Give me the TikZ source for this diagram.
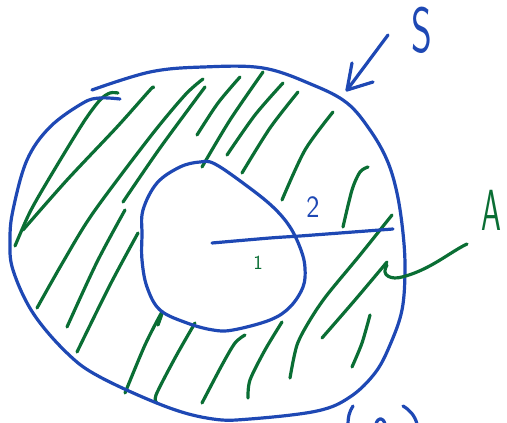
\documentclass[tikz,border=0pt]{standalone}
\definecolor{pen}{RGB}{30,72,180}
\definecolor{hatch}{RGB}{10,110,52}
\tikzset{
  bluepen/.style={draw=pen, line width=3.2pt, line cap=round, line join=round},
  greenpen/.style={draw=hatch, line width=3.2pt, line cap=round, line join=round},
  lbl/.style={inner sep=0pt, font=\sffamily}
}
\begin{document}
\begin{tikzpicture}[x=1pt,y=-1pt]
\useasboundingbox (0,0) rectangle (507,423);
% hatching
\draw[greenpen] plot[smooth] coordinates {(15,246) (30,212) (50,177) (83,123) (100,100) (110,93) (118,93)};
\draw[greenpen] plot[smooth] coordinates {(23,230) (67,180) (117,127) (150,90) (153,88)};
\draw[greenpen] plot[smooth] coordinates {(37,308) (63,262) (93,213) (150,137) (185,95) (203,79)};
\draw[greenpen] plot[smooth] coordinates {(123,202) (160,148) (205,87)};
\draw[greenpen] plot[smooth] coordinates {(67,327) (97,262) (125,210)};
\draw[greenpen] plot[smooth] coordinates {(77,352) (110,285) (138,233)};
\draw[greenpen] plot[smooth] coordinates {(125,393) (145,345) (162,312) (158,325)};
\draw[greenpen] plot[smooth] coordinates {(157,403) (156,395) (175,358) (195,323)};
\draw[greenpen] plot[smooth] coordinates {(202,403) (222,365) (235,343) (245,335)};
\draw[greenpen] plot[smooth] coordinates {(248,398) (250,380) (265,350) (282,322)};
\draw[greenpen] plot[smooth] coordinates {(290,378) (297,345) (310,320) (327,295) (360,255) (392,215)};
\draw[greenpen] plot[smooth] coordinates {(322,338) (355,300) (387,262)};
\draw[greenpen] plot[smooth] coordinates {(352,367) (362,343) (370,315)};
\draw[greenpen] plot[smooth] coordinates {(343,227) (352,190) (360,172) (368,167)};
\draw[greenpen] plot[smooth] coordinates {(282,200) (305,150) (333,112)};
\draw[greenpen] plot[smooth] coordinates {(242,173) (270,128) (298,92)};
\draw[greenpen] plot[smooth] coordinates {(227,155) (255,115) (283,83)};
\draw[greenpen] plot[smooth] coordinates {(202,167) (230,120) (263,72)};
\draw[greenpen] plot[smooth] coordinates {(197,135) (218,103) (240,77)};
% outer boundary S
\draw[bluepen] plot[smooth, tension=0.6] coordinates {(92,90) (150,72) (203,67) (263,68) (313,85) (347,103) (370,130) (387,160) (397,193) (403,233) (405,270) (402,310) (390,345) (375,373) (350,397) (317,411) (250,419) (213,419) (167,407) (100,377) (67,353) (33,313) (13,270) (10,240) (13,210) (27,160) (50,127) (83,103) (100,98) (120,99)};
% inner boundary
\draw[bluepen] plot[smooth cycle, tension=0.6] coordinates {(142,235) (143,210) (157,183) (180,167) (200,162) (215,164) (247,186) (273,207) (290,227) (301,250) (305,268) (303,287) (290,307) (270,320) (233,330) (213,330) (187,323) (160,310) (147,287) (142,260)};
% radial line
\draw[bluepen] plot[smooth] coordinates {(212,243) (270,238) (300,236) (340,233) (393,229)};
% arrow to S
\draw[bluepen] (388,35) -- (347,90);
\draw[bluepen] (352,63) -- (347,90) -- (373,82);
\node[lbl, text=pen, font=\sffamily\fontsize{64}{64}\selectfont, xscale=0.62] (S) at (422,30) {S};
% A label and leader
\node[lbl, text=hatch, font=\sffamily\fontsize{58}{58}\selectfont, xscale=0.55] (A) at (491,210) {A};
\draw[greenpen] (387,265) .. controls (380,276) and (392,280) .. (402,277) .. controls (430,270) and (450,252) .. (467,244);
% labels 1 and 2
\node[lbl, text=pen, font=\sffamily\fontsize{31}{31}\selectfont, xscale=0.9] (two) at (313,207) {2};
\node[lbl, text=hatch, font=\sffamily\fontsize{20}{20}\selectfont] (one) at (258,263) {1};
% cropped (a)
\draw[bluepen] (353,406) .. controls (349,412) and (348,418) .. (348,424);
\draw[bluepen] (376,424) .. controls (378,417) and (383,417) .. (385,424);
\draw[bluepen] (403,406) .. controls (410,410) and (415,416) .. (417,424);
\end{tikzpicture}
\end{document}
